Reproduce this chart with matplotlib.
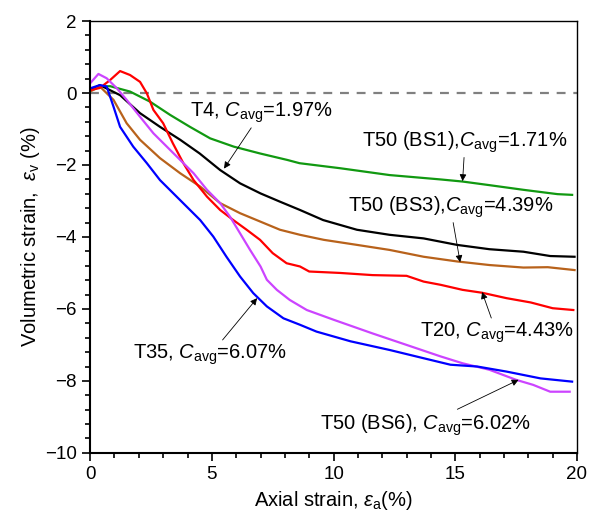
import numpy as np
import matplotlib
matplotlib.use("Agg")
import matplotlib.pyplot as plt
from matplotlib.ticker import MultipleLocator

plt.rcParams['font.family'] = ['Liberation Sans', 'DejaVu Sans']
plt.rcParams['mathtext.fontset'] = 'custom'
plt.rcParams['mathtext.it'] = 'Liberation Sans:italic'
plt.rcParams['mathtext.rm'] = 'Liberation Sans'

# T50 (BS1), green
bs1_x = [0, 0.4, 0.82, 1.64, 2.46, 3.29, 4.1, 4.93, 5.9, 6.98, 8.1, 8.6, 10.27, 12.3, 14.37, 15.3, 16.4, 17.8, 19.2, 19.8]
bs1_y = [0.08, 0.18, 0.19, 0.04, -0.24, -0.61, -0.94, -1.26, -1.49, -1.68, -1.86, -1.95, -2.09, -2.28, -2.4, -2.46, -2.56, -2.69, -2.81, -2.83]

# T4, black
t4_x = [0, 0.4, 1.23, 2.05, 2.87, 3.7, 4.5, 5.34, 6.16, 7.0, 7.8, 8.62, 9.57, 10.96, 12.3, 13.7, 15.07, 16.4, 17.8, 18.9, 19.9]
t4_y = [0.08, 0.22, -0.06, -0.56, -0.94, -1.3, -1.68, -2.14, -2.51, -2.79, -3.02, -3.25, -3.53, -3.8, -3.94, -4.04, -4.22, -4.34, -4.41, -4.53, -4.55]

# T50 (BS3), brown
bs3_x = [0, 0.4, 0.96, 1.5, 2.05, 2.87, 3.7, 4.52, 5.34, 6.16, 6.98, 7.8, 8.62, 9.6, 10.96, 12.3, 13.7, 15.07, 16.4, 17.8, 18.8, 19.9]
bs3_y = [0.04, 0.18, -0.19, -0.84, -1.3, -1.81, -2.23, -2.6, -3.06, -3.34, -3.57, -3.8, -3.94, -4.08, -4.22, -4.36, -4.55, -4.68, -4.78, -4.85, -4.84, -4.92]

# T20, red
t20_x = [0, 0.4, 0.82, 1.23, 1.64, 2.05, 2.33, 2.6, 3.0, 3.4, 3.83, 4.25, 4.8, 5.34, 5.88, 6.43, 6.98, 7.5, 8.07, 8.62, 9.0, 10.27, 11.6, 13.0, 13.7, 14.4, 15.3, 16.1, 17.1, 18.1, 19.0, 19.85]
t20_y = [0.08, 0.14, 0.36, 0.61, 0.5, 0.31, -0.01, -0.47, -0.84, -1.4, -1.95, -2.42, -2.88, -3.25, -3.53, -3.8, -4.08, -4.45, -4.73, -4.82, -4.96, -5.0, -5.06, -5.08, -5.24, -5.33, -5.47, -5.55, -5.7, -5.82, -5.98, -6.03]

# T50 (BS6), violet
bs6_x = [0, 0.34, 0.68, 1.1, 1.5, 2.05, 2.6, 3.15, 3.7, 4.25, 4.8, 5.34, 5.75, 6.16, 6.57, 7.0, 7.26, 7.67, 8.2, 8.9, 10.0, 11.6, 13.0, 14.4, 15.3, 16.4, 17.5, 18.2, 18.9, 19.7]
bs6_y = [0.27, 0.53, 0.41, 0.13, -0.19, -0.66, -1.12, -1.49, -1.86, -2.23, -2.69, -3.06, -3.44, -3.9, -4.36, -4.82, -5.19, -5.47, -5.75, -6.03, -6.3, -6.68, -7.0, -7.32, -7.51, -7.69, -7.97, -8.11, -8.3, -8.3]

# T35, blue
t35_x = [0, 0.4, 0.68, 0.96, 1.23, 1.77, 2.33, 2.87, 3.42, 3.97, 4.52, 5.06, 5.6, 6.16, 6.7, 7.26, 7.94, 8.62, 9.3, 10.7, 12.3, 13.7, 14.8, 15.9, 17.1, 18.5, 19.8]
t35_y = [0.13, 0.22, 0.18, -0.38, -0.94, -1.49, -1.95, -2.42, -2.79, -3.16, -3.53, -3.99, -4.55, -5.1, -5.56, -5.93, -6.26, -6.44, -6.63, -6.9, -7.14, -7.37, -7.55, -7.6, -7.74, -7.93, -8.02]

fig = plt.figure(figsize=(5.93, 5.26), dpi=100)
ax = fig.add_axes([0.152, 0.139, 0.821, 0.821])

lw = 1.6
ax.axhline(0, color='#808080', linestyle=(0, (4, 3.5)), linewidth=1.6, zorder=1)
ax.plot(bs1_x, bs1_y, color='#119911', lw=lw)
ax.plot(t4_x, t4_y, color='black', lw=lw)
ax.plot(bs3_x, bs3_y, color='#b8621b', lw=lw)
ax.plot(t20_x, t20_y, color='#ff0000', lw=lw)
ax.plot(bs6_x, bs6_y, color='#cc44ff', lw=lw)
ax.plot(t35_x, t35_y, color='#0000ff', lw=lw)

ap = dict(arrowstyle='-|>', color='black', lw=0.6, mutation_scale=10, shrinkA=0, shrinkB=0)
fs = 14.5
ax.annotate(r'T4, $C_{\rm avg}$=1.97%', xy=(5.5, -2.1), xytext=(4.1, -0.55),
            fontsize=fs, va='center', ha='left', arrowprops=ap)
ax.annotate(r'T50 (BS1),$C_{\rm avg}$=1.71%', xy=(15.3, -2.45), xytext=(15.4, -1.36),
            fontsize=fs, va='center', ha='center', arrowprops=ap)
ax.annotate(r'T50 (BS3),$C_{\rm avg}$=4.39%', xy=(15.2, -4.7), xytext=(14.8, -3.17),
            fontsize=fs, va='center', ha='center', arrowprops=ap)
ax.annotate(r'T20, $C_{\rm avg}$=4.43%', xy=(16.1, -5.53), xytext=(16.7, -6.67),
            fontsize=fs, va='center', ha='center', arrowprops=ap)
ax.annotate(r'T35, $C_{\rm avg}$=6.07%', xy=(6.86, -5.7), xytext=(4.93, -7.28),
            fontsize=fs, va='center', ha='center', arrowprops=ap)
ax.annotate(r'T50 (BS6), $C_{\rm avg}$=6.02%', xy=(17.6, -7.97), xytext=(13.76, -9.22),
            fontsize=fs, va='center', ha='center', arrowprops=ap)

ax.set_xlim(0, 20)
ax.set_ylim(-10, 2)
ax.xaxis.set_major_locator(MultipleLocator(5))
ax.xaxis.set_minor_locator(MultipleLocator(1))
ax.yaxis.set_major_locator(MultipleLocator(2))
ax.yaxis.set_minor_locator(MultipleLocator(0.4))
ax.tick_params(which='both', direction='out', width=1.2, labelsize=13.5)
ax.tick_params(which='major', length=6)
ax.tick_params(which='minor', length=3.5)
ax.spines['left'].set_linewidth(1.5)
ax.spines['bottom'].set_linewidth(1.5)
ax.spines['top'].set_linewidth(1.0)
ax.spines['right'].set_linewidth(1.0)

ax.set_xlabel(r'Axial strain, $\varepsilon_{\rm a}$(%)', fontsize=14.5)
ax.set_ylabel(r'Volumetric strain,  $\varepsilon_{\rm v}$ (%)', fontsize=14.5, labelpad=2)

fig.savefig('out.png', dpi=100)
